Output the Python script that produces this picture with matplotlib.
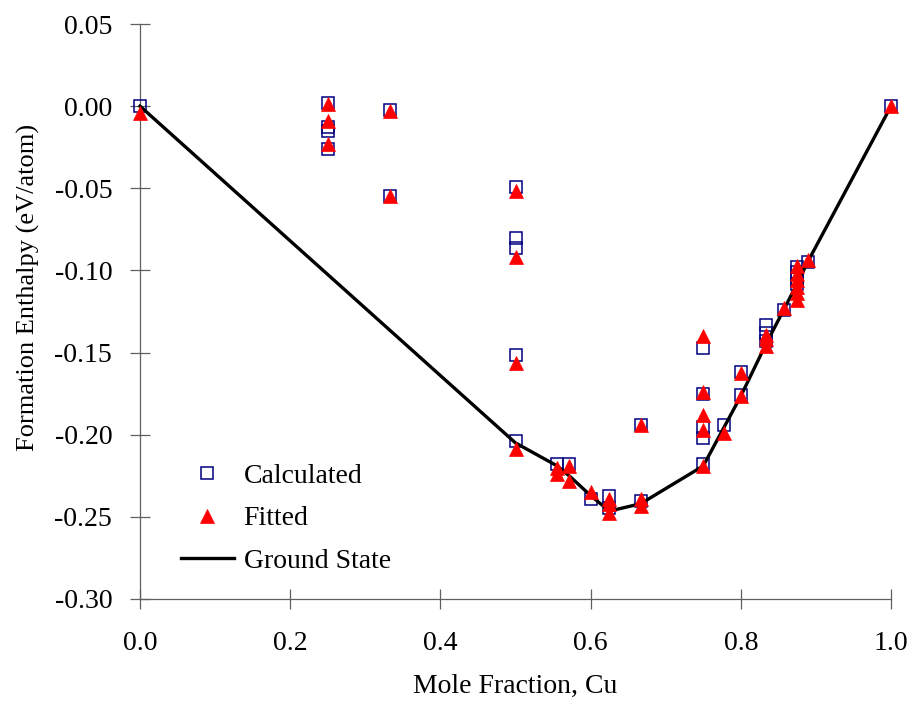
import matplotlib
matplotlib.use("Agg")
import matplotlib.pyplot as plt
from matplotlib.ticker import FormatStrFormatter, MultipleLocator

plt.rcParams["font.family"] = ["Liberation Serif", "DejaVu Serif"]
plt.rcParams["axes.unicode_minus"] = False

# Calculated formation enthalpies (eV/atom) vs. Cu mole fraction
calc_x = [0.0,
          0.25, 0.25, 0.25, 0.25,
          1/3, 1/3,
          0.5, 0.5, 0.5, 0.5, 0.5,
          5/9, 4/7, 0.6,
          0.625, 0.625,
          2/3, 2/3,
          0.75, 0.75, 0.75, 0.75, 0.75,
          7/9, 0.8, 0.8,
          5/6, 5/6, 5/6,
          6/7,
          0.875, 0.875, 0.875, 0.875,
          8/9, 1.0]
calc_y = [0.000,
          0.002, -0.0125, -0.015, -0.026,
          -0.0025, -0.0545,
          -0.049, -0.080, -0.0865, -0.1515, -0.204,
          -0.218, -0.218, -0.2394,
          -0.2374, -0.2444,
          -0.2404, -0.194,
          -0.1475, -0.175, -0.195, -0.202, -0.218,
          -0.194, -0.162, -0.176,
          -0.133, -0.138, -0.143,
          -0.124,
          -0.098, -0.101, -0.105, -0.108,
          -0.095, 0.000]

# Cluster-expansion fitted values
fit_x = [0.0,
         0.25, 0.25, 0.25,
         1/3, 1/3,
         0.5, 0.5, 0.5, 0.5,
         5/9, 5/9, 4/7, 4/7, 0.6,
         0.625, 0.625, 0.625,
         2/3, 2/3, 2/3,
         0.75, 0.75, 0.75, 0.75, 0.75,
         7/9, 0.8, 0.8,
         5/6, 5/6, 5/6,
         6/7,
         0.875, 0.875, 0.875, 0.875, 0.875, 0.875,
         8/9, 1.0]
fit_y = [-0.004,
         0.001, -0.009, -0.023,
         -0.003, -0.055,
         -0.0515, -0.092, -0.1565, -0.209,
         -0.220, -0.224, -0.219, -0.228, -0.235,
         -0.2394, -0.2424, -0.2475,
         -0.2394, -0.2434, -0.194,
         -0.140, -0.1737, -0.188, -0.197, -0.2188,
         -0.199, -0.1626, -0.1764,
         -0.139, -0.142, -0.146,
         -0.123,
         -0.097, -0.102, -0.106, -0.110, -0.114, -0.118,
         -0.0935, 0.000]

# Ground-state hull
gs_x = [0.0, 0.5, 5/9, 4/7, 0.6, 0.625, 2/3, 0.75, 0.8, 5/6, 6/7, 0.875, 8/9, 1.0]
gs_y = [0.0, -0.205, -0.219, -0.225, -0.237, -0.2465, -0.242, -0.219,
        -0.1765, -0.145, -0.124, -0.108, -0.095, 0.0]

FS = 20

fig = plt.figure(figsize=(9.16, 7.10), dpi=100)
ax = fig.add_axes([140/916, 1 - 599/710, 751/916, 575/710])

ax.plot(calc_x, calc_y, linestyle="none", marker="s", markersize=8.5,
        markerfacecolor="none", markeredgecolor="#000080", markeredgewidth=1.1,
        label="Calculated", clip_on=False, zorder=3)
ax.plot(gs_x, gs_y, color="black", linewidth=2.4, label="Ground State",
        zorder=4, clip_on=False)
ax.plot(fit_x, fit_y, linestyle="none", marker="^", markersize=10,
        markerfacecolor="red", markeredgecolor="red", markeredgewidth=0.5,
        label="Fitted", clip_on=False, zorder=5)

ax.set_xlim(0, 1.0)
ax.set_ylim(-0.30, 0.05)
ax.xaxis.set_major_locator(MultipleLocator(0.2))
ax.yaxis.set_major_locator(MultipleLocator(0.05))
ax.xaxis.set_major_formatter(FormatStrFormatter("%.1f"))
ax.yaxis.set_major_formatter(FormatStrFormatter("%.2f"))

for side in ("top", "right"):
    ax.spines[side].set_visible(False)
for side in ("left", "bottom"):
    ax.spines[side].set_color("#606060")
    ax.spines[side].set_linewidth(0.9)

ax.tick_params(axis="both", direction="inout", length=14, width=0.9,
               color="#606060", labelsize=FS, labelcolor="black")
ax.tick_params(axis="y", pad=13)
ax.tick_params(axis="x", pad=16)

ax.set_xlabel("Mole Fraction, Cu", fontsize=FS, labelpad=13)
ax.set_ylabel("Formation Enthalpy (eV/atom)", fontsize=19)
ax.yaxis.set_label_coords(-0.133, 0.541)

handles, labels = ax.get_legend_handles_labels()
order = [labels.index(n) for n in ("Calculated", "Fitted", "Ground State")]
ax.legend([handles[i] for i in order], [labels[i] for i in order],
          loc="upper left", bbox_to_anchor=(0.0546, 0.236), frameon=False,
          fontsize=FS, handlelength=1.9, handletextpad=0.35,
          labelspacing=0.62, borderpad=0, borderaxespad=0, numpoints=1)

fig.savefig("out.png", dpi=100)
